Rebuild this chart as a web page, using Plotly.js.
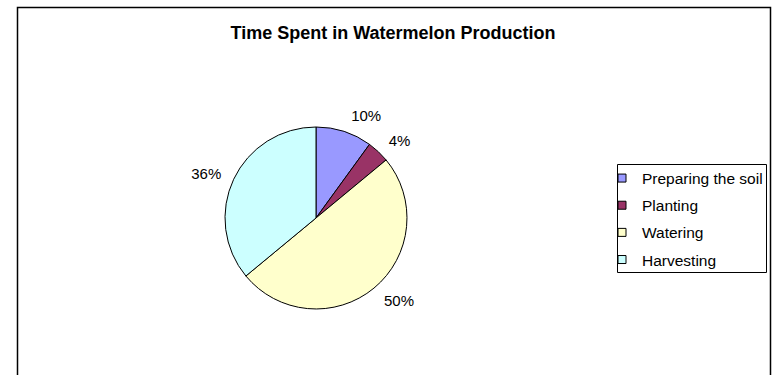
<!DOCTYPE html>
<html>
<head>
<meta charset="utf-8">
<script src="https://cdn.plot.ly/plotly-3.0.1.min.js"></script>
<style>html,body{margin:0;padding:0;background:#fff;}#chart{width:772px;height:375px;}</style>
</head>
<body>
<div id="chart"></div>
<script>
const categories = ["Preparing the soil", "Planting", "Watering", "Harvesting"];
const values = [10, 4, 50, 36];
const colors = ["#9999FF", "#993366", "#FFFFCC", "#CCFFFF"];
const chartTitle = "Time Spent in Watermelon Production";

const W = 772, H = 375;
const px = v => v / W;
const py = v => 1 - v / H;
const FONT = "Liberation Sans, Arial, Helvetica, sans-serif";

const cx = 316, cy = 218, r = 91, rLabel = 100;

const pieBase = {
  type: "pie",
  labels: categories,
  values: values,
  sort: false,
  direction: "clockwise",
  rotation: 0,
  showlegend: false
};

const traces = [
  Object.assign({}, pieBase, {
    textinfo: "none",
    marker: {colors: colors, line: {color: "#000", width: 1}},
    hoverinfo: "label+percent",
    domain: {x: [px(cx - r), px(cx + r)], y: [py(cy + r), py(cy - r)]}
  }),
  // transparent companion pie that only carries the percentage labels, slightly further out
  Object.assign({}, pieBase, {
    textinfo: "percent",
    texttemplate: "%{percent:.0%}",
    textposition: "outside",
    outsidetextfont: {family: FONT, size: 15, color: "#000"},
    marker: {colors: categories.map(() => "rgba(0,0,0,0)"), line: {width: 0}},
    hoverinfo: "skip",
    domain: {x: [px(cx - rLabel), px(cx + rLabel)], y: [py(cy + rLabel), py(cy - rLabel)]}
  })
];

categories.forEach((c, i) => {
  traces.push({
    type: "scatter",
    mode: "markers",
    x: [null], y: [null],
    name: c,
    legendgroup: "g" + i,
    marker: {symbol: "square", size: 8, color: colors[i], line: {color: "#000", width: 1}},
    hoverinfo: "skip"
  });
});

const layout = {
  width: W, height: H,
  margin: {l: 0, r: 0, t: 0, b: 0},
  paper_bgcolor: "#fff",
  plot_bgcolor: "rgba(0,0,0,0)",
  font: {family: FONT, color: "#000"},
  title: {
    text: chartTitle,
    x: px(393), xanchor: "center",
    y: py(33), yanchor: "middle",
    font: {family: FONT, size: 18, weight: "bold", color: "#000"}
  },
  xaxis: {visible: false, range: [0, 1]},
  yaxis: {visible: false, range: [0, 1]},
  showlegend: true,
  legend: {
    x: px(602), xanchor: "left",
    y: py(161.5), yanchor: "top",
    bgcolor: "rgba(0,0,0,0)",
    borderwidth: 0,
    traceorder: "grouped",
    tracegroupgap: 4,
    font: {family: FONT, size: 15.5, color: "#000"}
  },
  shapes: [
    {type: "rect", xref: "paper", yref: "paper",
     x0: px(17.5), x1: px(770.5), y0: -0.1, y1: py(7.5),
     line: {color: "#000", width: 1.5}, fillcolor: "rgba(0,0,0,0)"},
    {type: "rect", xref: "paper", yref: "paper",
     x0: px(617.5), x1: px(766.5), y0: py(272.5), y1: py(164.5),
     line: {color: "#000", width: 1}, fillcolor: "rgba(0,0,0,0)"}
  ]
};

Plotly.newPlot("chart", traces, layout, {displayModeBar: false, staticPlot: true});
</script>
</body>
</html>
